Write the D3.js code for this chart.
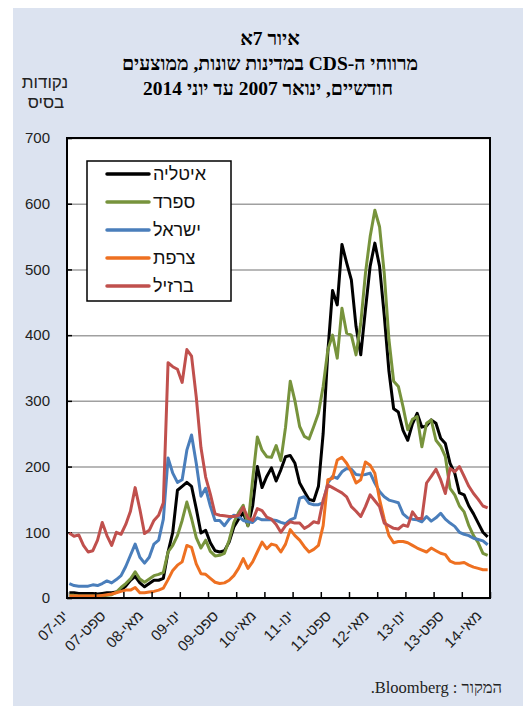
<!doctype html>
<html>
<head>
<meta charset="UTF-8">
<title>CDS spreads</title>
<script src="https://cdn.jsdelivr.net/npm/d3@7"></script>
<style>
  body { margin: 0; background: #fff; }
  text { direction: rtl; }
</style>
</head>
<body>
<svg id="chart" width="523" height="706"></svg>
<script>
// monthly averages, Jan 2007 .. Jun 2014 (90 months), basis points
var italy = [8,8,7,7,7,7,6,7,8,8,9,12,18,27,33,23,17,22,27,27,
  30,70,100,164,170,176,170,136,99,103,84,72,70,72,85,108,120,130,110,140,
  200,168,185,198,178,195,215,217,205,175,162,150,148,170,250,375,468,446,538,510,
  484,413,370,439,505,540,505,430,345,288,283,255,240,265,281,260,262,271,266,243,
  235,205,190,160,157,140,128,114,100,93];
var spain = [4,4,3,3,3,3,3,3,4,5,9,16,22,29,40,29,24,29,34,36,
  39,70,80,95,118,146,121,92,76,88,71,64,65,68,88,115,130,141,110,180,
  245,225,215,214,232,209,260,330,300,261,246,242,261,281,322,378,400,365,441,403,
  400,370,418,494,550,590,565,494,393,330,322,291,256,272,276,230,266,271,240,231,
  215,167,157,140,131,110,95,84,68,65];
var israel = [22,19,18,18,18,20,19,22,26,23,28,34,48,65,82,62,53,62,82,88,
  120,213,190,176,180,225,248,205,155,167,140,118,118,110,120,126,124,118,116,115,
  122,119,119,119,118,115,113,119,122,152,154,144,142,142,145,175,185,182,192,197,
  196,188,187,188,190,175,162,154,149,147,145,128,122,120,119,116,124,117,122,129,
  120,114,109,100,97,95,91,89,87,81];
var france = [3,3,3,3,3,3,3,4,5,6,8,10,12,12,16,8,8,9,10,12,
  15,28,42,50,55,80,77,52,37,36,30,24,22,23,27,34,45,60,45,55,
  70,85,75,82,80,70,82,104,95,88,78,70,74,80,110,180,182,210,214,205,
  192,175,180,207,202,190,150,120,95,84,86,86,84,80,76,73,70,76,72,68,
  66,56,53,53,54,50,47,45,43,43];
var brazil = [99,94,96,80,70,72,88,115,95,80,100,97,112,132,168,135,98,103,118,126,
  145,358,352,348,328,378,368,306,229,184,158,128,126,125,124,124,126,138,122,118,
  136,133,123,120,112,100,110,116,114,114,106,110,116,114,149,172,168,164,160,154,
  139,132,124,139,157,148,139,114,110,106,105,111,109,131,121,121,175,185,196,180,
  159,197,192,200,185,170,159,150,140,137];

var seriesNames = ["איטליה", "ספרד", "ישראל", "צרפת", "ברזיל"];
var seriesColors = ["#000000", "#77933c", "#4a7ebb", "#ee7021", "#c0504d"];
var heMonths = ["ינו","פבר","מרץ","אפר","מאי","יונ","יול","אוג","ספט","אוק","נוב","דצמ"];
var months = d3.timeMonth.range(new Date(2007, 0, 1), new Date(2014, 6, 1));
var yTicks = [0, 100, 200, 300, 400, 500, 600, 700];
var labelEvery = 8, tickEvery = 6;

var svg = d3.select("#chart");
var margin = {top: 138, left: 67, right: 33, bottom: 108};
var width = 523 - margin.left - margin.right,
    height = 706 - margin.top - margin.bottom;

// panel
svg.append("rect").attr("x", 13).attr("y", 8).attr("width", 510).attr("height", 698)
  .attr("fill", "#dce3f0");

// titles
var title = svg.append("g").attr("font-family", "'Liberation Serif', 'Times New Roman', serif")
  .attr("font-weight", "bold").attr("font-size", 19.5).attr("text-anchor", "middle");
title.append("text").attr("x", 270).attr("y", 45).text("איור 7א");
title.append("text").attr("x", 270).attr("y", 70).text("מרווחי ה-CDS במדינות שונות, ממוצעים");
title.append("text").attr("x", 268).attr("y", 95).text("חודשיים, ינואר 2007 עד יוני 2014");

var ytitle = svg.append("g").attr("font-family", "'Liberation Sans', Arial, sans-serif")
  .attr("font-size", 17).attr("text-anchor", "middle").attr("fill", "#222");
ytitle.append("text").attr("x", 45).attr("y", 88).text("נקודות");
ytitle.append("text").attr("x", 46).attr("y", 108).text("בסיס");

svg.append("text").attr("x", 502).attr("y", 693)
  .attr("font-family", "'Liberation Serif', 'Times New Roman', serif")
  .attr("font-size", 16.5).attr("text-anchor", "start").attr("fill", "#222")
  .text("המקור : Bloomberg.");

var g = svg.append("g").attr("transform", "translate(" + margin.left + "," + margin.top + ")");

var x = d3.scaleLinear().domain([0, months.length]).range([0, width]);
var y = d3.scaleLinear().domain([0, 700]).range([height, 0]);

g.append("rect").attr("width", width).attr("height", height).attr("fill", "#fff");

// gridlines
g.append("g")
  .call(d3.axisLeft(y).tickValues(yTicks).tickSize(-width).tickFormat(""))
  .call(function(s) {
    s.select(".domain").remove();
    s.selectAll("line").attr("stroke", "#a0a0a0").attr("stroke-width", 1.5);
  });

// y axis
g.append("g")
  .call(d3.axisLeft(y).tickValues(yTicks).tickSize(-5).tickPadding(17))
  .call(function(s) {
    s.select(".domain").remove();
    s.selectAll("line").attr("stroke", "#000").attr("stroke-width", 1.5);
    s.selectAll("text").attr("font-family", "'Liberation Sans', Arial, sans-serif")
      .attr("font-size", 15).attr("fill", "#222").style("direction", "ltr");
  });

// lines
var line = d3.line()
  .x(function(d, i) { return x(i + 0.5); })
  .y(function(d) { return y(d); });

var data = [italy, spain, israel, france, brazil];
g.selectAll(".series").data(data).enter().append("path")
  .attr("class", "series")
  .attr("fill", "none")
  .attr("stroke", function(d, i) { return seriesColors[i]; })
  .attr("stroke-width", 3)
  .attr("stroke-linejoin", "round")
  .attr("d", line);

// frame
g.append("rect").attr("width", width).attr("height", height)
  .attr("fill", "none").attr("stroke", "#000").attr("stroke-width", 2);

// x axis tick marks
g.append("g").attr("transform", "translate(0," + height + ")")
  .call(d3.axisBottom(x).tickValues(d3.range(0, months.length + 1, tickEvery)).tickSize(-6).tickFormat(""))
  .call(function(s) {
    s.select(".domain").remove();
    s.selectAll("line").attr("stroke", "#000").attr("stroke-width", 1.5);
  });

// x labels
var labelIdx = d3.range(0, months.length, labelEvery);
g.append("g").selectAll("text").data(labelIdx).enter().append("text")
  .attr("transform", function(i) { return "translate(" + (x(i + 0.5) - 4) + "," + (height + 15) + ") rotate(-45)"; })
  .attr("text-anchor", "start")
  .attr("dy", "0.35em")
  .attr("font-family", "'Liberation Sans', Arial, sans-serif")
  .attr("font-size", 15).attr("fill", "#222")
  .text(function(i) {
    var m = months[i];
    return heMonths[m.getMonth()] + "-" + d3.timeFormat("%y")(m);
  });

// legend
var legend = svg.append("g").attr("transform", "translate(87,161)");
legend.append("rect").attr("width", 144).attr("height", 140)
  .attr("fill", "#fff").attr("stroke", "#000").attr("stroke-width", 1.5);
var item = legend.selectAll(".item").data(seriesNames).enter().append("g")
  .attr("transform", function(d, i) { return "translate(0," + (13 + i * 28) + ")"; });
item.append("line").attr("x1", 20).attr("x2", 62)
  .attr("stroke", function(d, i) { return seriesColors[i]; })
  .attr("stroke-width", 3.5).attr("stroke-linecap", "round");
item.append("text").attr("x", 66).attr("dy", "0.35em")
  .attr("text-anchor", "end")
  .attr("font-family", "'Liberation Sans', Arial, sans-serif")
  .attr("font-size", 18).attr("fill", "#111")
  .text(function(d) { return d; });
</script>
</body>
</html>
